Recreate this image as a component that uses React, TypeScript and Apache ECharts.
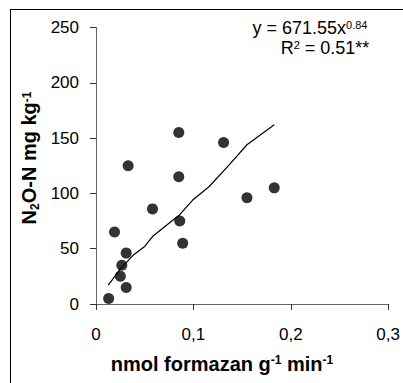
import React, { useEffect, useRef } from "react";
import * as echarts from "echarts";

const xTicks = [0, 0.1, 0.2, 0.3];
const yTicks = [0, 50, 100, 150, 200, 250];

const pointsX = [0.013, 0.019, 0.025, 0.0265, 0.031, 0.031, 0.033, 0.058, 0.085, 0.085, 0.086, 0.089, 0.131, 0.155, 0.183];
const pointsY = [5, 65, 25, 35, 46, 15, 125, 86, 155, 115, 75, 55, 146, 96, 105];

const trendX = [0.0126, 0.0245, 0.038, 0.05, 0.058, 0.072, 0.0857, 0.0993, 0.116, 0.137, 0.155, 0.183];
const trendY = [17, 31, 44, 52, 61, 71, 80.5, 94, 106, 126, 144, 162];

const equation = "y = 671.55x";
const equationExp = "0.84";
const rSquared = " = 0.51**";

export default function App() {
  const ref = useRef<HTMLDivElement>(null);
  useEffect(() => {
    if (!ref.current) return;
    const chart = echarts.init(ref.current, null, { renderer: "svg" });
    const font = "'Liberation Sans', Arial, sans-serif";
    const tok = (size: number, bold: boolean, lh: number, va: string, pad: number[]) => ({
      fontSize: size,
      fontWeight: bold ? "bold" : "normal",
      fontFamily: font,
      fill: "#000",
      lineHeight: lh,
      verticalAlign: va,
      padding: pad,
    });
    chart.setOption({
      animation: false,
      textStyle: { fontFamily: font },
      grid: { left: 96, right: 13, top: 27.5, bottom: 79, containLabel: false },
      xAxis: {
        type: "value",
        min: xTicks[0],
        max: xTicks[xTicks.length - 1],
        interval: 0.1,
        axisLine: { lineStyle: { color: "#666", width: 1 } },
        axisTick: { show: true, length: 6, inside: false, lineStyle: { color: "#333" } },
        splitLine: { show: false },
        axisLabel: {
          fontSize: 17,
          color: "#000",
          fontFamily: font,
          margin: 22,
          formatter: (v: number) => (v === 0 ? "0" : String(+v.toFixed(1)).replace(".", ",")),
        },
      },
      yAxis: {
        type: "value",
        min: yTicks[0],
        max: yTicks[yTicks.length - 1],
        interval: 50,
        axisLine: { show: true, lineStyle: { color: "#666", width: 1 } },
        axisTick: { show: true, length: 6, inside: false, lineStyle: { color: "#333" } },
        splitLine: { show: false },
        axisLabel: { fontSize: 17, color: "#000", fontFamily: font, margin: 17 },
      },
      series: [
        {
          type: "scatter",
          data: pointsX.map((x, i) => [x, pointsY[i]]),
          symbol: "circle",
          symbolSize: 11,
          itemStyle: { color: "#000" },
          z: 3,
        },
        {
          type: "line",
          data: trendX.map((x, i) => [x, trendY[i]]),
          showSymbol: false,
          symbol: "none",
          lineStyle: { color: "#000", width: 1.2 },
          z: 2,
        },
      ],
      graphic: [
        { type: "line", shape: { x1: 10, y1: 9.5, x2: 403, y2: 9.5 }, style: { stroke: "#000", lineWidth: 1 } },
        { type: "line", shape: { x1: 10.5, y1: 9, x2: 10.5, y2: 383 }, style: { stroke: "#000", lineWidth: 1 } },
        {
          type: "text",
          x: 310,
          y: 28,
          style: {
            text: `{a|${equation}}{s|${equationExp}}`,
            align: "center",
            verticalAlign: "middle",
            rich: { a: tok(18, false, 18, "bottom", [0, 0, 0, 0]), s: tok(11, false, 11, "top", [0, 0, 9, 0]) },
          },
        },
        {
          type: "text",
          x: 325,
          y: 48,
          style: {
            text: `{a|R}{s|2}{a|${rSquared}}`,
            align: "center",
            verticalAlign: "middle",
            rich: { a: tok(18, false, 18, "bottom", [0, 0, 0, 0]), s: tok(11, false, 11, "top", [0, 0, 9, 0]) },
          },
        },
        {
          type: "text",
          x: 222,
          y: 364,
          style: {
            text: "{a|nmol formazan g}{s|-1}{a| min}{s|-1}",
            align: "center",
            verticalAlign: "middle",
            rich: { a: tok(20, true, 20, "bottom", [0, 0, 0, 0]), s: tok(12, true, 12, "top", [0, 0, 10, 0]) },
          },
        },
        {
          type: "text",
          x: 31,
          y: 158,
          rotation: Math.PI / 2,
          style: {
            text: "{a|N}{b|2}{a|O-N mg kg}{s|-1}",
            align: "center",
            verticalAlign: "middle",
            rich: {
              a: tok(20, true, 20, "bottom", [0, 0, 2, 0]),
              b: tok(12, true, 12, "bottom", [0, 0, 0, 0]),
              s: tok(12, true, 12, "top", [0, 0, 12, 0]),
            },
          },
        },
      ],
    });
    return () => chart.dispose();
  }, []);
  return <div ref={ref} style={{ width: 403, height: 383, position: "absolute", left: 0, top: 0 }} />;
}
